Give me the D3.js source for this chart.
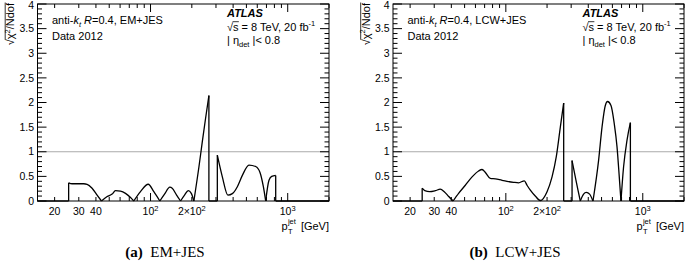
<!DOCTYPE html>
<html><head><meta charset="utf-8">
<script src="https://cdn.jsdelivr.net/npm/d3@7"></script>
<style>body{margin:0;background:#fff}text{white-space:pre}</style>
</head><body>
<svg id="c" width="685" height="263"></svg>
<script>
// ---- data ----
const emPt  = [15, 25.3, 25.3, 26.8, 32.6, 34.5, 37.5, 40.8, 43.9, 48.3, 52.5, 55.5, 60.4, 65.7, 71.5, 75.5, 84.5, 96.2, 105.7, 116.9, 126.5, 138.3, 143.9, 154.9, 165.5, 177, 188.4, 198.2, 207, 225.3, 238.4, 252, 266.4, 266.4, 306.9, 306.9, 333.8, 366.6, 394.9, 429.5, 467.1, 521.9, 584.1, 628.1, 664.6, 691, 730.4, 764.3, 817.5, 817.5, 2000];
const emChi = [0, 0, 0.37, 0.35, 0.35, 0.34, 0.26, 0.12, 0, 0.09, 0.14, 0.21, 0.20, 0.155, 0.07, 0, 0.19, 0.34, 0.19, 0, 0.14, 0.28, 0.26, 0.12, 0, 0.12, 0.21, 0.155, 0, 0.69, 1.2, 1.68, 2.14, 0, 0, 0.93, 0.49, 0.12, 0.15, 0.29, 0.52, 0.73, 0.70, 0.58, 0.29, 0, 0.42, 0.50, 0.52, 0, 0];
const lcwPt  = [15, 24.5, 24.5, 25.6, 27.8, 30.6, 33.2, 35.5, 38.3, 41.2, 45.2, 50.6, 56.7, 63.3, 67, 70.9, 77, 83.9, 93.8, 102, 114, 124, 136.5, 142.8, 151, 164, 178.6, 200, 217.5, 233.6, 250, 264.5, 264.5, 304.5, 304.5, 321.5, 336.4, 349.7, 369.7, 387, 409, 433, 476, 504, 532.6, 553.4, 586, 619, 648.5, 673.5, 693, 724, 766.7, 812, 812, 2000];
const lcwChi = [0, 0, 0.26, 0.21, 0.19, 0.21, 0.24, 0.19, 0.09, 0, 0.155, 0.32, 0.49, 0.61, 0.64, 0.58, 0.46, 0.45, 0.42, 0.40, 0.38, 0.37, 0.41, 0.32, 0.22, 0.10, 0.01, 0.19, 0.49, 0.9, 1.5, 1.99, 0, 0, 0.82, 0.49, 0.22, 0, 0.14, 0.175, 0.14, 0, 0.83, 1.5, 1.94, 2.02, 1.94, 1.57, 1.10, 0.49, 0, 0.69, 1.23, 1.59, 0, 0];

const yTickValues = [0, 0.5, 1, 1.5, 2, 2.5, 3, 3.5, 4];
const yTickLabels = ["0", "0.5", "1", "1.5", "2", "2.5", "3", "3.5", "4"];
const xLabelValues = [20, 30, 40, 100, 200, 1000];
const xLabelTexts = ["20", "30", "40", "10^2", "2×10^2", "10^3"];
const xMajorTicks = [100, 1000];
const xMinorTicks = [20, 30, 40, 50, 60, 70, 80, 90, 200, 300, 400, 500, 600, 700, 800, 900, 2000];
const algoLabels = ["EM+JES", "LCW+JES"];
const captionTags = ["(a)", "(b)"];
const xDomain = [15, 2000];
const yDomain = [0, 4];
const refLine = 1;

// ---- drawing ----
const SANS = "'Liberation Sans', Arial, Helvetica, sans-serif";
const SERIF = "'Liberation Serif', 'Times New Roman', serif";
const svg = d3.select("#c");
svg.append("rect").attr("width", 685).attr("height", 263).attr("fill", "#fff");

function rich(g, x, y, parts, size, anchor) {
  const t = g.append("text").attr("x", x).attr("y", y)
    .attr("font-family", SANS).attr("font-size", size).attr("fill", "#000");
  if (anchor) t.attr("text-anchor", anchor);
  let shift = 0;
  parts.forEach(p => {
    const s = p.shift || 0;
    const ts = t.append("tspan").text(p.t);
    if (s !== shift) ts.attr("dy", -(s - shift));
    shift = s;
    if (p.size) ts.attr("font-size", p.size);
    if (p.style) ts.attr("font-style", p.style);
    if (p.weight) ts.attr("font-weight", p.weight);
    if (p.family) ts.attr("font-family", p.family);
  });
  return t;
}

function drawPanel(idx, x0, x1, pts, vals) {
  const yB = 201, yT = 4;
  const x = d3.scaleLog().domain(xDomain).range([x0, x1]);
  const y = d3.scaleLinear().domain(yDomain).range([yB, yT]);
  const g = svg.append("g");

  // reference line
  g.append("line").attr("x1", x0).attr("x2", x1).attr("y1", y(refLine)).attr("y2", y(refLine))
    .attr("stroke", "#aaa").attr("stroke-width", 1);

  // curve split into smooth pieces and vertical jumps
  const data = pts.map((p, i) => [p, vals[i]]);
  const segs = [], verts = [];
  let cur = [data[0]];
  for (let i = 1; i < data.length; i++) {
    const p = data[i], q = data[i - 1];
    if (p[0] === q[0]) { segs.push(cur); verts.push([q, p]); cur = [p]; }
    else { cur.push(p); if (p[1] === 0) { segs.push(cur); cur = [p]; } }
  }
  segs.push(cur);
  const line = d3.line().x(d => x(d[0])).y(d => y(d[1])).curve(d3.curveMonotoneX);
  const straight = d3.line().x(d => x(d[0])).y(d => y(d[1]));
  segs.filter(s => s.length > 1).forEach(s => {
    g.append("path").attr("d", line(s)).attr("fill", "none").attr("stroke", "#000").attr("stroke-width", 1.3);
  });
  verts.forEach(v => {
    g.append("path").attr("d", straight(v)).attr("fill", "none").attr("stroke", "#000").attr("stroke-width", 1.3);
  });

  // frame
  g.append("rect").attr("x", x0).attr("y", yT).attr("width", x1 - x0).attr("height", yB - yT)
    .attr("fill", "none").attr("stroke", "#000").attr("stroke-width", 1);

  // y ticks (both sides)
  const yMinor = d3.range(0, 4.0001, 0.1);
  yMinor.forEach(v => {
    const major = Math.abs(v * 2 - Math.round(v * 2)) < 1e-6;
    const L = major ? 9 : 4.5;
    g.append("line").attr("x1", x0).attr("x2", x0 + L).attr("y1", y(v)).attr("y2", y(v)).attr("stroke", "#000");
    g.append("line").attr("x1", x1).attr("x2", x1 - L).attr("y1", y(v)).attr("y2", y(v)).attr("stroke", "#000");
  });
  yTickValues.forEach((v, i) => {
    g.append("text").attr("x", x0 - 3.5).attr("y", Math.max(y(v) + 3.7, 8.5)).attr("text-anchor", "end")
      .attr("font-family", SANS).attr("font-size", 10.5).text(yTickLabels[i]);
  });

  // x ticks (bottom and top)
  const xt = xMajorTicks.map(v => [v, 8]).concat(xMinorTicks.map(v => [v, 4]));
  xt.forEach(([v, L]) => {
    g.append("line").attr("x1", x(v)).attr("x2", x(v)).attr("y1", yB).attr("y2", yB - L).attr("stroke", "#000");
    g.append("line").attr("x1", x(v)).attr("x2", x(v)).attr("y1", yT).attr("y2", yT + L).attr("stroke", "#000");
  });
  xLabelValues.forEach((v, i) => {
    const parts = xLabelTexts[i].split("^");
    const p = [{ t: parts[0] }];
    if (parts[1]) p.push({ t: parts[1], size: 7.5, shift: 4.5 });
    rich(g, x(v), 215, p, 10.5, "middle");
  });

  // x title: p_T^jet [GeV]
  const by = 230;
  const gev = g.append("text").attr("x", x1).attr("y", by).attr("text-anchor", "end")
    .attr("font-family", SANS).attr("font-size", 11).text("[GeV]");
  const wg = gev.node().getComputedTextLength();
  const sup = g.append("text").attr("font-family", SANS).attr("font-size", 7.5).text("jet");
  const ws = sup.node().getComputedTextLength();
  const sx = x1 - wg - 5 - ws;
  sup.attr("x", sx).attr("y", by - 6);
  g.append("text").attr("x", sx).attr("y", by + 3.5).attr("font-family", SANS).attr("font-size", 7.5).text("T");
  g.append("text").attr("x", sx - 0.3).attr("y", by).attr("text-anchor", "end")
    .attr("font-family", SANS).attr("font-size", 11).text("p");

  // y title: sqrt(chi2/Ndof), rotated
  const gy = g.append("g").attr("transform", `translate(${x0 - 23.5},${yT - 1}) rotate(-90)`);
  const yt = rich(gy, 0, 0, [{ t: "√" }, { t: "χ" }, { t: "2", size: 7.5, shift: 4.5 }, { t: "/Ndof", shift: 0 }], 11, "end");
  const n = yt.node();
  const e0 = n.getExtentOfChar(0);
  const nc = n.getNumberOfChars();
  const eL = n.getExtentOfChar(nc - 1);
  gy.append("line").attr("x1", e0.x + e0.width - 0.5).attr("x2", eL.x + eL.width + 0.5)
    .attr("y1", e0.y + 1.2).attr("y2", e0.y + 1.2).attr("stroke", "#000").attr("stroke-width", 0.8);

  // labels
  const lx = x0 + 14.5;
  rich(g, lx, 24, [{ t: "anti-" }, { t: "k", style: "italic" }, { t: "t", style: "italic", size: 7.5, shift: -2.5 },
    { t: " ", shift: 0 }, { t: "R", style: "italic" }, { t: "=0.4, " + algoLabels[idx] }], 11);
  rich(g, lx, 39.5, [{ t: "Data 2012" }], 11);

  const ax = x0 + 189.5;
  rich(g, ax, 16.7, [{ t: "ATLAS", weight: "bold", style: "italic" }], 11);
  const st = rich(g, ax, 30.5, [{ t: "√" }, { t: "s = 8 TeV, 20 fb" }, { t: "-1", size: 7.5, shift: 4.5 }], 11);
  const sn = st.node();
  const s0 = sn.getExtentOfChar(0), s1 = sn.getExtentOfChar(1);
  g.append("line").attr("x1", s0.x + s0.width - 0.5).attr("x2", s1.x + s1.width + 0.3)
    .attr("y1", s0.y + 1.2).attr("y2", s0.y + 1.2).attr("stroke", "#000").attr("stroke-width", 0.8);
  rich(g, ax, 44, [{ t: "| η" }, { t: "det", size: 7.5, shift: -2.5 }, { t: " |< 0.8", shift: 0 }], 11);

  // caption
  const ct = g.append("text").attr("x", idx === 0 ? 165 : 515).attr("y", 257).attr("text-anchor", "middle")
    .attr("font-family", SERIF).attr("font-size", 15);
  ct.append("tspan").attr("font-weight", "bold").text(captionTags[idx]);
  ct.append("tspan").text("  " + algoLabels[idx]);
}

drawPanel(0, 37.5, 329, emPt, emChi);
drawPanel(1, 393, 684, lcwPt, lcwChi);
</script>
</body></html>
